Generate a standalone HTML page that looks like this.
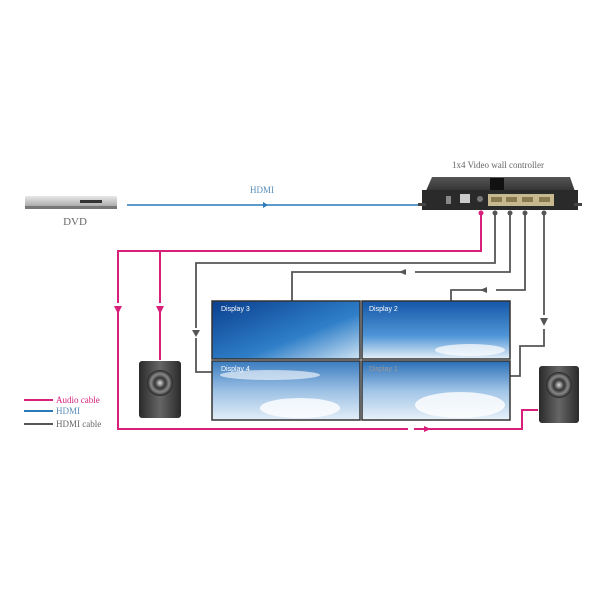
<!DOCTYPE html>
<html><head><meta charset="utf-8"><style>
html,body{margin:0;padding:0;background:#fff}
svg{display:block}
text{font-family:"Liberation Serif",serif}
</style></head><body>
<svg width="600" height="600" viewBox="0 0 600 600" xmlns="http://www.w3.org/2000/svg">
<defs>
<linearGradient id="sky1" x1="0" y1="0" x2="1" y2="1"><stop offset="0" stop-color="#0a3f8f"/><stop offset="0.6" stop-color="#2f7fc8"/><stop offset="1" stop-color="#cfe3f3"/></linearGradient>
<linearGradient id="sky2" x1="0" y1="0" x2="0" y2="1"><stop offset="0" stop-color="#1556a8"/><stop offset="0.6" stop-color="#4f95d6"/><stop offset="1" stop-color="#e6f0f8"/></linearGradient>
<linearGradient id="sky3" x1="0" y1="0" x2="0" y2="1"><stop offset="0" stop-color="#3a7cc0"/><stop offset="0.5" stop-color="#9cc0e4"/><stop offset="1" stop-color="#e3eef8"/></linearGradient>
<linearGradient id="sky4" x1="0" y1="0" x2="0" y2="1"><stop offset="0" stop-color="#2a6fb8"/><stop offset="0.5" stop-color="#a0c4e6"/><stop offset="1" stop-color="#e9f1f9"/></linearGradient>
<linearGradient id="box" x1="0" y1="0" x2="0" y2="1"><stop offset="0" stop-color="#555"/><stop offset="1" stop-color="#1e1e1e"/></linearGradient>
<linearGradient id="dvd" x1="0" y1="0" x2="0" y2="1"><stop offset="0" stop-color="#e8e8e8"/><stop offset="1" stop-color="#9a9a9a"/></linearGradient>
<linearGradient id="spkb" x1="0" y1="0" x2="1" y2="0"><stop offset="0" stop-color="#2a2a2a"/><stop offset="0.5" stop-color="#666"/><stop offset="1" stop-color="#2a2a2a"/></linearGradient>
<radialGradient id="spk"><stop offset="0" stop-color="#ddd"/><stop offset="0.4" stop-color="#333"/><stop offset="0.7" stop-color="#888"/><stop offset="1" stop-color="#222"/></radialGradient>
</defs>

<rect x="25" y="196" width="92" height="13" rx="2" fill="url(#dvd)"/>
<rect x="25" y="206" width="92" height="3" fill="#777"/>
<rect x="80" y="200" width="22" height="3" fill="#333"/>
<text x="75" y="225" font-size="11" fill="#666" text-anchor="middle">DVD</text>

<line x1="127" y1="205" x2="418" y2="205" stroke="#2a7ab8" stroke-width="1.5"/>
<text x="262" y="193" font-size="9" fill="#5a8db8" text-anchor="middle">HDMI</text>
<polygon points="263,202 268,205 263,208" fill="#2a7ab8"/>

<text x="498" y="168" font-size="9" fill="#666" text-anchor="middle">1x4 Video wall controller</text>
<polygon points="432,177 570,177 578,200 422,200" fill="url(#box)"/>
<rect x="422" y="190" width="156" height="20" fill="#2a2a2a"/>
<rect x="418" y="203" width="8" height="3" fill="#444"/>
<rect x="574" y="203" width="8" height="3" fill="#444"/>
<rect x="490" y="178" width="14" height="12" fill="#111"/>
<rect x="446" y="196" width="5" height="8" fill="#888"/>
<rect x="460" y="194" width="10" height="9" fill="#ccc"/>
<circle cx="480" cy="199" r="3" fill="#777"/>
<rect x="488" y="194" width="66" height="12" fill="#c8b890"/>
<rect x="491" y="197" width="11" height="5" fill="#8a7a50"/>
<rect x="506" y="197" width="11" height="5" fill="#8a7a50"/>
<rect x="522" y="197" width="11" height="5" fill="#8a7a50"/>
<rect x="539" y="197" width="11" height="5" fill="#8a7a50"/>

<g fill="none" stroke="#d6207a" stroke-width="2">
<polyline points="481,213 481,251 118,251 118,429 522,429 522,410 538,410"/>
<polyline points="160,251 160,360"/>
</g>
<circle cx="481" cy="213" r="2.5" fill="#d6207a"/>
<rect x="114" y="303" width="8" height="4" fill="#fff"/><polygon points="114,306 122,306 118,314" fill="#d6207a"/>
<rect x="156" y="303" width="8" height="4" fill="#fff"/><polygon points="156,306 164,306 160,314" fill="#d6207a"/>
<rect x="408" y="426" width="6" height="6" fill="#fff"/><rect x="424" y="426" width="4" height="6" fill="#fff"/><polygon points="424,426 431,429 424,432" fill="#d6207a"/>

<g fill="none" stroke="#555" stroke-width="1.8">
<polyline points="495,213 495,263 196,263 196,372 213,372"/>
<polyline points="510,213 510,272 292,272 292,301"/>
<polyline points="525,213 525,290 451,290 451,301"/>
<polyline points="544,213 544,346 520,346 520,376 510,376"/>
</g>
<g fill="#555">
<circle cx="495" cy="213" r="2.5"/><circle cx="510" cy="213" r="2.5"/><circle cx="525" cy="213" r="2.5"/><circle cx="544" cy="213" r="2.5"/>
</g>
<rect x="192" y="328" width="8" height="10" fill="#fff"/><polygon points="192,330 200,330 196,337" fill="#555"/>
<rect x="403" y="269" width="12" height="6" fill="#fff"/><polygon points="406,269 406,275 399,272" fill="#555"/>
<rect x="484" y="287" width="12" height="6" fill="#fff"/><polygon points="487,287 487,293 480,290" fill="#555"/>
<rect x="540" y="315" width="8" height="14" fill="#fff"/><polygon points="540,318 548,318 544,326" fill="#555"/>

<rect x="212" y="301" width="148" height="58" fill="url(#sky1)" stroke="#333" stroke-width="1.5"/>
<rect x="362" y="301" width="148" height="58" fill="url(#sky2)" stroke="#333" stroke-width="1.5"/>
<rect x="212" y="361" width="148" height="59" fill="url(#sky3)" stroke="#333" stroke-width="1.5"/>
<rect x="362" y="361" width="148" height="59" fill="url(#sky4)" stroke="#333" stroke-width="1.5"/>
<ellipse cx="300" cy="408" rx="40" ry="10" fill="#fff" opacity="0.8"/>
<ellipse cx="460" cy="405" rx="45" ry="13" fill="#fff" opacity="0.8"/>
<ellipse cx="470" cy="350" rx="35" ry="6" fill="#fff" opacity="0.7"/>
<ellipse cx="270" cy="375" rx="50" ry="5" fill="#fff" opacity="0.6"/>
<g font-size="7" fill="#fff">
<text x="221" y="311" style="font-family:'Liberation Sans',sans-serif">Display 3</text>
<text x="369" y="311" style="font-family:'Liberation Sans',sans-serif">Display 2</text>
<text x="221" y="371" style="font-family:'Liberation Sans',sans-serif">Display 4</text>
<text x="369" y="371" style="font-family:'Liberation Sans',sans-serif" fill="#999">Display 1</text>
</g>

<rect x="139" y="361" width="42" height="57" rx="3" fill="url(#spkb)"/>
<circle cx="160" cy="383" r="13" fill="url(#spk)"/>
<rect x="539" y="366" width="40" height="57" rx="3" fill="url(#spkb)"/>
<circle cx="559" cy="385" r="13" fill="url(#spk)"/>

<line x1="24" y1="400" x2="53" y2="400" stroke="#d6207a" stroke-width="2"/>
<text x="56" y="403" font-size="9" fill="#d6207a">Audio cable</text>
<line x1="24" y1="411" x2="53" y2="411" stroke="#2a7ab8" stroke-width="2"/>
<text x="56" y="414" font-size="9" fill="#5a8db8">HDMI</text>
<line x1="24" y1="424" x2="53" y2="424" stroke="#555" stroke-width="2"/>
<text x="56" y="427" font-size="9" fill="#666">HDMI cable</text>
</svg>
</body></html>
